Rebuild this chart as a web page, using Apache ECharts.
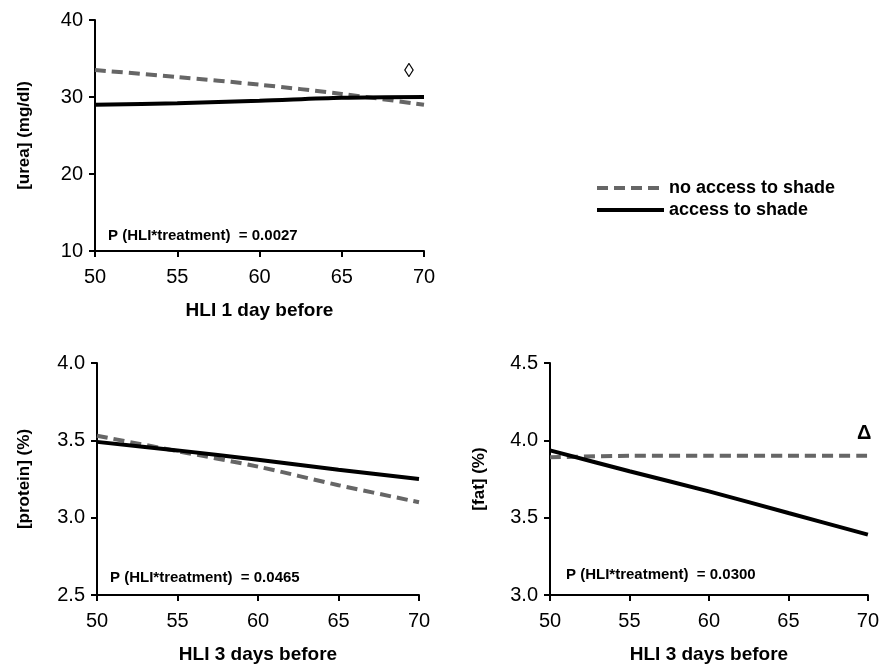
<!DOCTYPE html>
<html>
<head>
<meta charset="utf-8">
<script src="https://cdn.jsdelivr.net/npm/echarts@6/dist/echarts.min.js"></script>
<style>
  html, body { margin: 0; padding: 0; background: #fff; }
  #chart { width: 882px; height: 665px; }
</style>
</head>
<body>
<div id="chart"></div>
<script>
// HLI values where the fitted lines are read
const hli = [50, 55, 60, 65, 70];

// urea (mg/dl) vs HLI 1 day before
const ureaNoShade = [33.5, 32.6, 31.6, 30.4, 29.0];
const ureaShade = [29.0, 29.2, 29.5, 29.9, 30.0];

// protein (%) vs HLI 3 days before
const proteinNoShade = [3.53, 3.43, 3.33, 3.21, 3.10];
const proteinShade = [3.49, 3.435, 3.375, 3.31, 3.25];

// fat (%) vs HLI 3 days before
const fatNoShade = [3.89, 3.90, 3.90, 3.90, 3.90];
const fatShade = [3.935, 3.80, 3.67, 3.53, 3.39];

const seriesNames = ["no access to shade", "access to shade"];
const pValues = ["P (HLI*treatment)  = 0.0027", "P (HLI*treatment)  = 0.0465", "P (HLI*treatment)  = 0.0300"];

const FONT = "Liberation Sans";
const chart = echarts.init(document.getElementById("chart"));

function pairs(ys) {
  return hli.map((x, i) => [x, ys[i]]);
}

function xAx(idx, title) {
  return {
    type: "value", gridIndex: idx, min: 50, max: 70, interval: 5,
    name: title, nameLocation: "middle", nameGap: 50,
    nameTextStyle: { fontFamily: FONT, fontSize: 19, fontWeight: "bold", color: "#000" },
    axisLine: { lineStyle: { color: "#000", width: 2 } },
    axisTick: { lineStyle: { color: "#000", width: 2 }, length: 6 },
    axisLabel: { fontFamily: FONT, fontSize: 20, color: "#000", margin: 16 },
    splitLine: { show: false }
  };
}

function yAx(idx, title, min, max, interval, dec, gap) {
  return {
    type: "value", gridIndex: idx, min: min, max: max, interval: interval,
    name: title, nameLocation: "middle", nameGap: gap, nameRotate: 90,
    nameTextStyle: { fontFamily: FONT, fontSize: 17, fontWeight: "bold", color: "#000" },
    axisLine: { show: true, lineStyle: { color: "#000", width: 2 } },
    axisTick: { show: true, lineStyle: { color: "#000", width: 2 }, length: 6 },
    axisLabel: { fontFamily: FONT, fontSize: 20, color: "#000", margin: 12,
      formatter: v => v.toFixed(dec) },
    splitLine: { show: false }
  };
}

function dashed(idx, ys) {
  return {
    name: seriesNames[0], type: "line", xAxisIndex: idx, yAxisIndex: idx,
    data: pairs(ys), symbol: "none", smooth: 0.3,
    lineStyle: { color: "#666", width: 4, type: [11, 6] }, itemStyle: { color: "#666" }
  };
}

function solid(idx, ys) {
  return {
    name: seriesNames[1], type: "line", xAxisIndex: idx, yAxisIndex: idx,
    data: pairs(ys), symbol: "none", smooth: 0.3,
    lineStyle: { color: "#000", width: 4, type: "solid" }, itemStyle: { color: "#000" }
  };
}

function txt(left, top, text, size, weight) {
  return { type: "text", left: left, top: top,
    style: { text: text, fontFamily: FONT, fontSize: size, fontWeight: weight || "bold", fill: "#000" } };
}

chart.setOption({
  backgroundColor: "#fff",
  animation: false,
  grid: [
    { left: 95, top: 20, width: 329, height: 231 },
    { left: 97, top: 363, width: 322, height: 232 },
    { left: 550, top: 363, width: 323, height: 232 }
  ],
  xAxis: [xAx(0, "HLI 1 day before"), xAx(1, "HLI 3 days before"), xAx(2, "HLI 3 days before")],
  yAxis: [
    yAx(0, "[urea] (mg/dl)", 10, 40, 10, 0, 62),
    yAx(1, "[protein] (%)", 2.5, 4.0, 0.5, 1, 64),
    yAx(2, "[fat] (%)", 3.0, 4.5, 0.5, 1, 62)
  ],
  legend: {
    left: 590, top: 174, orient: "vertical", itemGap: 4,
    itemWidth: 67, itemHeight: 20,
    data: seriesNames,
    itemStyle: { opacity: 0 },
    lineStyle: { width: 4 },
    textStyle: { fontFamily: FONT, fontSize: 18, fontWeight: "bold", color: "#000" }
  },
  series: [
    dashed(0, ureaNoShade), solid(0, ureaShade),
    dashed(1, proteinNoShade), solid(1, proteinShade),
    dashed(2, fatNoShade), solid(2, fatShade)
  ],
  graphic: [
    txt(108, 228, pValues[0], 15),
    txt(110, 570, pValues[1], 15),
    txt(566, 567, pValues[2], 15),
    txt(404, 61, "\u25CA", 20, "normal"),
    txt(857, 423, "\u0394", 20)
  ]
});
</script>
</body>
</html>
